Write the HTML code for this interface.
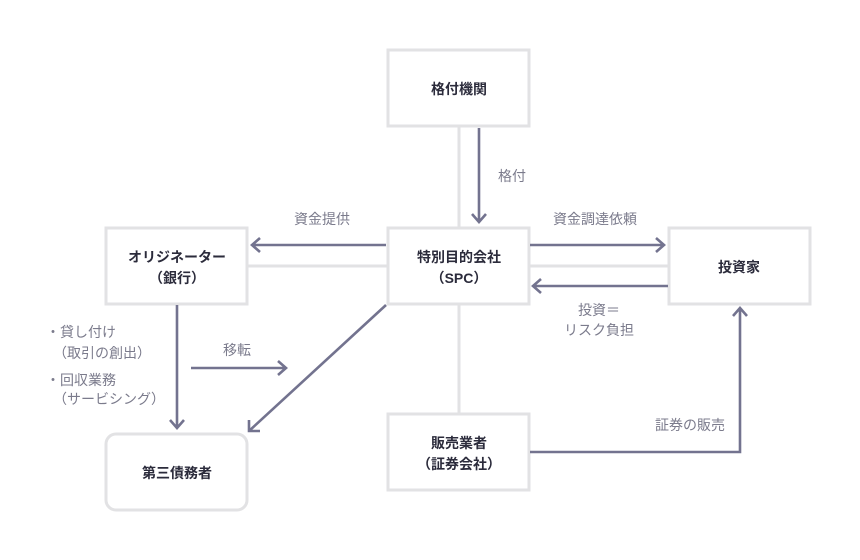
<!DOCTYPE html>
<html><head><meta charset="utf-8"><style>
body{margin:0;background:#fff;}
svg{display:block;font-family:"Liberation Sans","Noto Sans CJK JP",sans-serif;}
.b{fill:#fff;stroke:#e2e2e4;stroke-width:3}
.t{font-size:14px;font-weight:bold;fill:#2b2b3b;text-anchor:middle}
.l{font-size:14px;fill:#7b7b8c;text-anchor:middle}
.a{stroke:#73738f;stroke-width:2.6;fill:none}
.g{stroke:#e2e2e4;stroke-width:3}
</style></head><body>
<svg width="860" height="560" viewBox="0 0 860 560">
<line class="g" x1="459" y1="127" x2="459" y2="227"/>
<line class="g" x1="459" y1="304" x2="459" y2="413"/>
<line class="g" x1="247" y1="266" x2="387" y2="266"/>
<line class="g" x1="529" y1="266" x2="668" y2="266"/>
<rect class="b" x="388" y="50" width="141" height="76"/>
<rect class="b" x="388" y="228" width="141" height="76"/>
<rect class="b" x="669" y="228" width="141" height="76"/>
<rect class="b" x="106" y="228" width="141" height="76"/>
<rect class="b" x="106" y="434" width="141" height="76" rx="10"/>
<rect class="b" x="388" y="414" width="141" height="76"/>
<text class="t" x="459" y="94">格付機関</text>
<text class="t" x="459" y="262">特別目的会社</text>
<text class="t" x="459" y="283">（SPC）</text>
<text class="t" x="739" y="272">投資家</text>
<text class="t" x="177" y="262">オリジネーター</text>
<text class="t" x="177" y="283">（銀行）</text>
<text class="t" x="177" y="478">第三債務者</text>
<text class="t" x="459" y="448">販売業者</text>
<text class="t" x="459" y="469">（証券会社）</text>
<path class="a" d="M479 128V222M472 214L479 222L486 214"/>
<path class="a" d="M386 245H252M260 238L252 245L260 252"/>
<path class="a" d="M530 245H664M656 238L664 245L656 252"/>
<path class="a" d="M668 286H533M541 279L533 286L541 293"/>
<path class="a" d="M177 305V428M170 420L177 428L184 420"/>
<path class="a" d="M191 368H286M278 361L286 368L278 375"/>
<path class="a" d="M386 305L249 431M249 420L249 431L260 431"/>
<path class="a" d="M530 452H740V308M733 316L740 308L747 316"/>
<text class="l" x="322" y="224">資金提供</text>
<text class="l" x="512" y="181">格付</text>
<text class="l" x="595" y="224">資金調達依頼</text>
<text class="l" x="599" y="315">投資＝</text>
<text class="l" x="599" y="335">リスク負担</text>
<text class="l" x="237" y="355">移転</text>
<text class="l" x="690" y="430">証券の販売</text>
<text class="l" x="46" y="337" style="text-anchor:start">・貸し付け</text>
<text class="l" x="53" y="358" style="text-anchor:start">（取引の創出）</text>
<text class="l" x="46" y="385" style="text-anchor:start">・回収業務</text>
<text class="l" x="53" y="404" style="text-anchor:start">（サービシング）</text>
</svg>
</body></html>
